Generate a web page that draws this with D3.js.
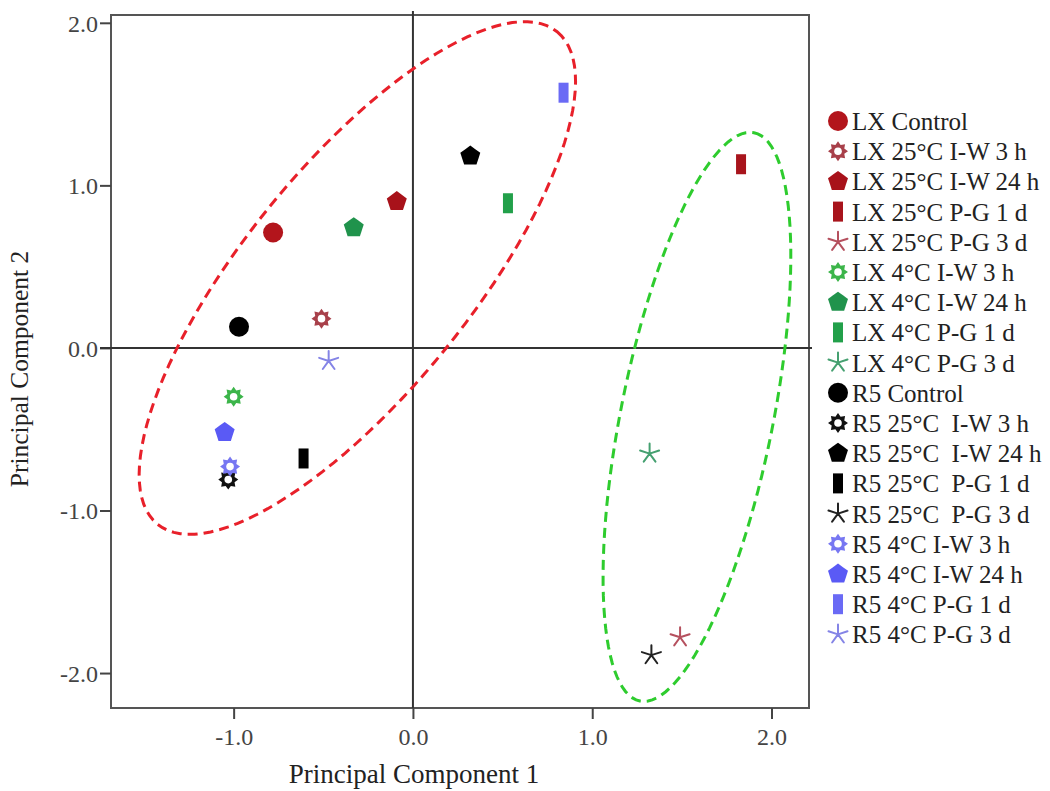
<!DOCTYPE html>
<html><head><meta charset="utf-8">
<script src="https://cdn.jsdelivr.net/npm/d3@7"></script>
<style>body{margin:0;background:#fff}</style>
</head><body>
<svg id="c" width="1050" height="791"></svg>
<script>
// ---- data ----
const labels = ["LX Control","LX 25°C I-W 3 h","LX 25°C I-W 24 h","LX 25°C P-G 1 d","LX 25°C P-G 3 d",
  "LX 4°C I-W 3 h","LX 4°C I-W 24 h","LX 4°C P-G 1 d","LX 4°C P-G 3 d",
  "R5 Control","R5 25°C  I-W 3 h","R5 25°C  I-W 24 h","R5 25°C  P-G 1 d","R5 25°C  P-G 3 d",
  "R5 4°C I-W 3 h","R5 4°C I-W 24 h","R5 4°C P-G 1 d","R5 4°C P-G 3 d"];
const pc1 = [-0.78,-0.51,-0.09,1.83,1.49,-1.00,-0.33,0.53,1.32,-0.97,-1.03,0.32,-0.61,1.33,-1.02,-1.05,0.84,-0.47];
const pc2 = [0.71,0.18,0.90,1.13,-1.78,-0.30,0.74,0.89,-0.65,0.13,-0.81,1.18,-0.68,-1.89,-0.73,-0.52,1.57,-0.08];
const shapes = ["circle","sun","pentagon","rect","star","sun","pentagon","rect","star",
  "circle","sun","pentagon","rect","star","sun","pentagon","rect","star"];
const colors = ["#b3151c","#a8404a","#a8121a","#a8141c","#b5505e","#3cb54a","#20934c","#22a04a","#45a070",
  "#000000","#111111","#000000","#000000","#222222","#7777f2","#5a5af5","#6a6af5","#8484e6"];
const xTicks = [-1,0,1,2];
const yTicks = [-2,-1,0,1,2];
// cluster ellipses: centre and two conjugate semi-diameters (data units)
const ellipseNames = ["red","green"];
const ellipseCentres = [[-0.31,0.43],[1.584,-0.424]];
const ellipseAxesM = [[1.114,1.515],[0.318,1.748]];
const ellipseAxesN = [[0.490,-0.438],[0.416,-0.092]];
const ellipseColors = ["#e8202a","#2ecc2e"];

// ---- layout ----
const svg = d3.select("#c");
const L=111, R=809, T=15, B=708;
const x = d3.scaleLinear().domain([-1.684,2.209]).range([L,R]);
const y = d3.scaleLinear().domain([-2.215,2.048]).range([B,T]);
const font = "'Liberation Serif','Times New Roman',serif";

// frame
svg.append("rect").attr("x",L).attr("y",T).attr("width",R-L).attr("height",B-T)
  .attr("fill","none").attr("stroke","#555").attr("stroke-width",2);

// axes
const fmt = d=>d3.format(".1f")(d).replace("−","-");
const xa = svg.append("g").attr("transform",`translate(0,${B})`)
  .call(d3.axisBottom(x).tickValues(xTicks).tickFormat(fmt).tickSize(11).tickSizeOuter(0));
const ya = svg.append("g").attr("transform",`translate(${L},0)`)
  .call(d3.axisLeft(y).tickValues(yTicks).tickFormat(fmt).tickSize(11).tickSizeOuter(0));
[xa,ya].forEach(g=>{
  g.select(".domain").remove();
  g.selectAll(".tick line").attr("stroke","#444").attr("stroke-width",2);
  g.selectAll(".tick text").attr("font-family",font).attr("font-size",24).attr("fill","#444");
});
xa.selectAll(".tick text").attr("y",0).attr("dy","1.55em");
ya.selectAll(".tick text").attr("x",-13).attr("dy","0.35em");

// zero reference lines
svg.append("line").attr("x1",L-11).attr("x2",R+3).attr("y1",y(0)).attr("y2",y(0))
  .attr("stroke","#333").attr("stroke-width",2);
svg.append("line").attr("x1",x(0)).attr("x2",x(0)).attr("y1",T-4).attr("y2",B)
  .attr("stroke","#333").attr("stroke-width",2);

// ellipses
ellipseNames.forEach((n,i)=>{
  const c=ellipseCentres[i], M=ellipseAxesM[i], N=ellipseAxesN[i];
  const pts = d3.range(0,361,3).map(a=>{
    const t=a*Math.PI/180;
    return [x(c[0]+M[0]*Math.cos(t)+N[0]*Math.sin(t)), y(c[1]+M[1]*Math.cos(t)+N[1]*Math.sin(t))];
  });
  svg.append("path").attr("d",d3.line().curve(d3.curveLinearClosed)(pts))
    .attr("fill","none").attr("stroke",ellipseColors[i]).attr("stroke-width",3)
    .attr("stroke-dasharray","10,6");
});

// marker drawing
function starPath(n, ro, ri){
  const p=[];
  for(let k=0;k<2*n;k++){
    const r = k%2===0?ro:ri, a = -Math.PI/2 + k*Math.PI/n;
    p.push([r*Math.cos(a), r*Math.sin(a)]);
  }
  return "M"+p.map(q=>q.join(",")).join("L")+"Z";
}
function drawMarker(g, shape, col){
  if(shape==="circle"){
    g.append("circle").attr("r",10).attr("fill",col);
  } else if(shape==="pentagon"){
    g.append("path").attr("d",starPath(5,10.5,10.5*Math.cos(Math.PI/5))).attr("fill",col);
  } else if(shape==="rect"){
    g.append("rect").attr("x",-5).attr("y",-10).attr("width",10).attr("height",20).attr("fill",col);
  } else if(shape==="sun"){
    g.append("path").attr("d",starPath(8,10,6.8)).attr("fill",col);
    g.append("circle").attr("r",3.8).attr("fill","#fff");
  } else if(shape==="star"){
    let d="";
    for(let k=0;k<5;k++){
      const a=-Math.PI/2+k*2*Math.PI/5;
      d+=`M0,0L${10*Math.cos(a)},${10*Math.sin(a)}`;
    }
    g.append("path").attr("d",d).attr("fill","none").attr("stroke",col).attr("stroke-width",2).attr("stroke-linecap","round");
  }
}

// points
labels.forEach((lab,i)=>{
  const g = svg.append("g").attr("transform",`translate(${x(pc1[i])},${y(pc2[i])})`);
  drawMarker(g, shapes[i], colors[i]);
});

// legend
const lg = svg.append("g");
labels.forEach((lab,i)=>{
  const yy = 121 + i*30.2;
  const g = lg.append("g").attr("transform",`translate(838,${yy})`);
  drawMarker(g, shapes[i], colors[i]);
  lg.append("text").attr("x",852).attr("y",yy).attr("dy","0.36em")
    .attr("font-family",font).attr("font-size",25).attr("fill","#222")
    .attr("xml:space","preserve").style("white-space","pre").text(lab);
});

// axis titles
svg.append("text").attr("x",414).attr("y",783).attr("text-anchor","middle")
  .attr("font-family",font).attr("font-size",27).attr("fill","#222").text("Principal Component 1");
svg.append("text").attr("transform","translate(28,369) rotate(-90)").attr("text-anchor","middle")
  .attr("font-family",font).attr("font-size",25.5).attr("fill","#222").text("Principal Component 2");
</script>
</body></html>
